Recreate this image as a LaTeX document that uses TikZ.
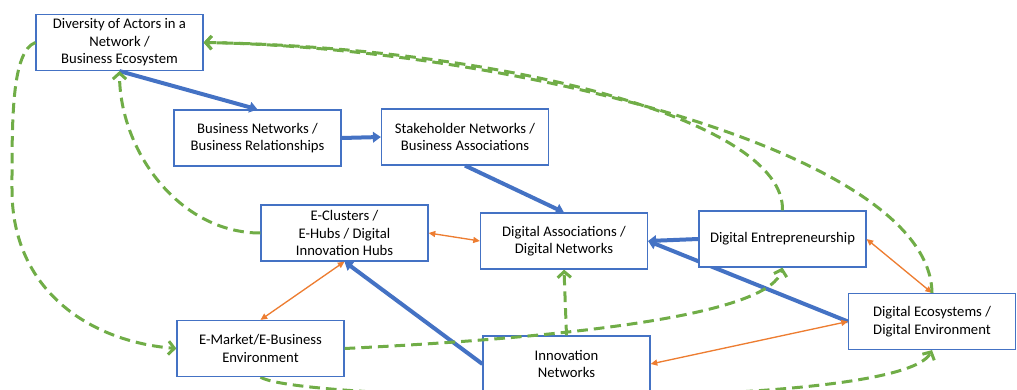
\documentclass[tikz,border=0pt]{standalone}
\usepackage{fontspec}
\setmainfont{Carlito}
\usetikzlibrary{arrows.meta,backgrounds}
\definecolor{boxblue}{HTML}{4472C4}
\definecolor{arrblue}{HTML}{4472C4}
\definecolor{orng}{HTML}{ED7D31}
\definecolor{grn}{HTML}{70AD47}
\begin{document}
\begin{tikzpicture}[x=0.75pt,y=-0.75pt,
  box/.style={draw=boxblue,line width=0.9pt,fill=white,minimum width=125.25pt,minimum height=42pt,inner sep=2pt,align=center,font=\fontsize{11pt}{13.2pt}\selectfont},
  blu/.style={draw=arrblue,line width=3pt,-{Triangle[length=6pt,width=8pt]}},
  org/.style={draw=orng,line width=1pt,{Triangle[length=5pt,width=4.5pt]}-{Triangle[length=5pt,width=4.5pt]}},
  grd/.style={draw=grn,line width=2.25pt,dash pattern=on 8pt off 4.5pt,-{Straight Barb[length=4.5pt,width=10pt]}},
  grl/.style={draw=grn,line width=2.25pt,dash pattern=on 8pt off 4.5pt}
]
\clip (0,0) rectangle (1017,389);

\node[box] (div) at (119.5,42.5) {Diversity of Actors in a\\Network /\\Business Ecosystem};
\node[box] (bn) at (257.5,138) {Business Networks /\\Business Relationships};
\node[box] (sh) at (465,137) {Stakeholder Networks /\\Business Associations};
\node[box] (ec) at (344.5,233) {E-Clusters /\\E-Hubs / Digital\\Innovation Hubs};
\node[box] (da) at (564,241) {Digital Associations /\\Digital Networks};
\node[box] (de) at (782.5,239) {Digital Entrepreneurship};
\node[box] (eco) at (932,321.5) {Digital Ecosystems /\\Digital Environment};
\node[box] (em) at (260.5,348.5) {E-Market/E-Business\\Environment};
\node[box] (inn) at (566.5,364) {Innovation\\Networks};

\begin{pgfonlayer}{background}
\draw[blu] (eco.west) -- (da.east);
\draw[grd] (em.south) .. controls +(38,25) and +(-32,62) .. (eco.south);
\end{pgfonlayer}

% blue
\draw[blu] (div.south) -- (bn.north);
\draw[blu] (bn.east) -- (sh.west);
\draw[blu] (sh.south) -- (da.north);
\draw[blu] (de.west) -- (da.east);
\draw[blu] (inn.west) -- (ec.south);

% orange
\draw[org] (ec.east) -- (da.west);
\draw[org] (ec.south) -- (em.north);
\draw[org] (de.east) -- (eco.north);
\draw[org] (inn.east) -- (eco.west);

% green
\coordinate (kmid) at (12,190);
\draw[grd] (div.west) .. controls +(-24,9) and +(0,-70) .. (kmid) .. controls +(0,100) and +(-87,-7) .. (em.west);
\draw[grd] (ec.west) .. controls +(-81,0) and +(0,80) .. (div.south);
\draw[grd] (de.north) .. controls +(2.5,-91) and +(297,5) .. (div.east);
\draw[grd] (eco.north) .. controls +(-2,-143) and +(297,5) .. (div.east);
\draw[grd] (em.east) .. controls +(256,-12.5) and +(-12.5,44) .. (de.south);
\draw[grd] (inn.north) -- (da.south);
\end{tikzpicture}
\end{document}
